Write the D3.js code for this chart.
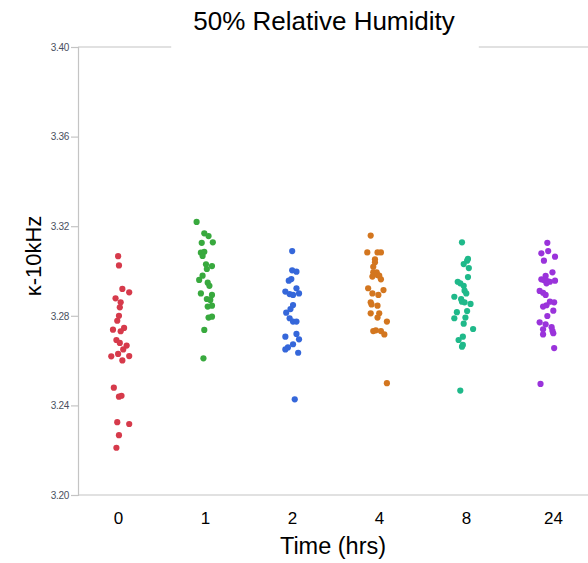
<!DOCTYPE html>
<html><head><meta charset="utf-8">
<script src="https://cdn.jsdelivr.net/npm/d3@7"></script>
<style>body{margin:0;background:#fff}svg{display:block}</style>
</head><body>
<svg id="c" width="588" height="563"></svg>
<script>
const categories = ["0","1","2","4","8","24"];
const colors = ["#d63a4b","#38a93e","#3567da","#d3761f","#1fb98a","#9a33db"];
const yTicks = [3.20,3.24,3.28,3.32,3.36,3.40];

const values0 = [3.3066,3.3025,3.2920,3.2905,3.2878,3.2860,3.2838,3.2800,3.2778,3.2746,3.2738,3.2731,3.2692,3.2679,3.2667,3.2650,3.2630,3.2619,3.2620,3.2601,3.2479,3.2439,3.2443,3.2325,3.2317,3.2267,3.2211];
const jitter0 = [-3,-2,2,10,-6,0,-1,-2,-4,4,-9,0,-5,-1,7,3,-3,-11,10,2,-8,-2,1,-4,10,-2,-5];
const values1 = [3.3219,3.3168,3.3156,3.3126,3.3128,3.3082,3.3086,3.3067,3.3030,3.3022,3.3009,3.2979,3.2960,3.2948,3.2934,3.2900,3.2893,3.2875,3.2871,3.2845,3.2841,3.2796,3.2792,3.2737,3.2610];
const jitter1 = [-11,-2,3,-5,8,-6,-2,-4,0,7,1,-4,-8,2,4,-6,7,1,5,7,2,7,3,-2,-3];
const values2 = [3.3089,3.3003,3.2997,3.2964,3.2957,3.2923,3.2908,3.2897,3.2893,3.2900,3.2848,3.2830,3.2814,3.2789,3.2774,3.2774,3.2719,3.2707,3.2695,3.2673,3.2659,3.2650,3.2635,3.2427];
const jitter2 = [1,1,6,0,-3,6,-7,-2,2,9,2,-1,-6,-2,2,6,6,-7,9,2,-4,-7,8,4];
const values3 = [3.3158,3.3083,3.3083,3.3083,3.3052,3.3039,3.3019,3.2994,3.2994,3.2975,3.2982,3.2979,3.2963,3.2923,3.2900,3.2893,3.2915,3.2860,3.2851,3.2845,3.2811,3.2811,3.2792,3.2774,3.2732,3.2735,3.2732,3.2717,3.2499];
const jitter3 = [-7,-11,1,5,-2,-2,-4,-4,0,-5,1,3,5,-10,-5,2,8,-7,-6,1,-7,3,1,12,-4,-1,5,9,12];
const values4 = [3.3128,3.3054,3.3046,3.3031,3.3013,3.2973,3.2952,3.2945,3.2934,3.2912,3.2900,3.2885,3.2874,3.2863,3.2860,3.2853,3.2821,3.2816,3.2792,3.2789,3.2765,3.2741,3.2707,3.2692,3.2670,3.2662,3.2466];
const jitter4 = [0,7,6,2,8,7,-5,-2,2,3,5,-9,-1,0,3,10,6,-6,4,-9,2,13,1,-4,1,0,-2];
const values5 = [3.3126,3.3089,3.3079,3.3064,3.3046,3.2994,3.2978,3.2963,3.2960,3.2955,3.2952,3.2957,3.2945,3.2911,3.2903,3.2893,3.2863,3.2860,3.2847,3.2841,3.2823,3.2799,3.2771,3.2762,3.2749,3.2740,3.2733,3.2722,3.2717,3.2656,3.2496];
const jitter5 = [0,1,-7,9,-4,6,-2,-7,-4,0,3,9,-1,-9,-5,-2,3,8,-1,-5,7,0,-9,-2,5,-5,6,7,-5,8,-8];

const seriesValues = [values0,values1,values2,values3,values4,values5];
const seriesJitter = [jitter0,jitter1,jitter2,jitter3,jitter4,jitter5];

const svg = d3.select("#c");
const L = 78, R = 590, T = 47, B = 495;
const x = d3.scaleBand().domain(categories).range([L, R]);
const xLabel = d3.scalePoint().domain(categories).range([118, 553]);
const y = d3.scaleLinear().domain([3.20, 3.40]).range([B, T]);
const axisColor = "#c4c4c4";
const font = "'Liberation Sans', Arial, sans-serif";

// frame
svg.append("line").attr("x1", L).attr("x2", 588).attr("y1", T).attr("y2", T).attr("stroke", axisColor).attr("stroke-width", 1.2);
svg.append("line").attr("x1", L).attr("x2", 588).attr("y1", B).attr("y2", B).attr("stroke", axisColor).attr("stroke-width", 1.2);
const titleBack = svg.append("rect").attr("fill", "#fff");

// y axis
const yAxis = svg.append("g").attr("transform", `translate(${L},0)`)
  .call(d3.axisLeft(y).tickValues(yTicks).tickFormat(d3.format(".2f")).tickSizeOuter(0).tickSize(7).tickPadding(2));
yAxis.select(".domain").attr("stroke", axisColor).attr("stroke-width", 1.2);
yAxis.selectAll(".tick line").attr("stroke", axisColor).attr("stroke-width", 1.2);
yAxis.selectAll(".tick text").attr("fill", "#4a5060").style("font-family", font).style("font-size", "10px").style("letter-spacing", "-0.3px");

// x axis labels
const xAxis = svg.append("g").attr("transform", `translate(0,${B})`)
  .call(d3.axisBottom(xLabel).tickSize(0).tickPadding(17));
xAxis.select(".domain").remove();
xAxis.selectAll(".tick text").attr("fill", "#000").style("font-family", font).style("font-size", "17px");

// points
categories.forEach((c, i) => {
  const vals = seriesValues[i], jit = seriesJitter[i];
  svg.append("g").selectAll("circle").data(vals).join("circle")
    .attr("cx", (d, k) => x(c) + x.bandwidth() / 2 + jit[k] / 100 * x.bandwidth())
    .attr("cy", d => y(d))
    .attr("r", 3.1)
    .attr("fill", colors[i]);
});

// title with white backing
const title = svg.append("text").attr("x", 324).attr("y", 30).attr("text-anchor", "middle")
  .style("font-family", font).style("font-size", "26px").attr("fill", "#000")
  .text("50% Relative Humidity");
const bb = title.node().getBBox();
titleBack.attr("x", bb.x - 22).attr("y", T - 3).attr("width", bb.width + 46).attr("height", 6);

// axis titles
svg.append("text").attr("transform", `translate(41,${(T + B) / 2 - 15}) rotate(-90)`).attr("text-anchor", "middle")
  .style("font-family", font).style("font-size", "22px").attr("fill", "#000")
  .text("κ-10kHz");
svg.append("text").attr("x", 333).attr("y", 554).attr("text-anchor", "middle")
  .style("font-family", font).style("font-size", "23.5px").attr("fill", "#000")
  .text("Time (hrs)");
</script>
</body></html>
